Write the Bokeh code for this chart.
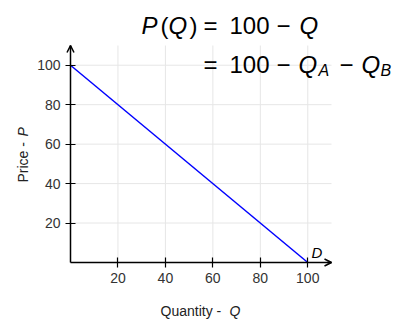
import math
from bokeh.plotting import figure
from bokeh.models import Label, Arrow, OpenHead, FixedTicker, Range1d
from bokeh.embed import file_html
from bokeh.resources import INLINE

# ---- data ----
quantity = [0, 100]
price = [100, 0]
x_ticks = [20, 40, 60, 80, 100]
y_ticks = [20, 40, 60, 80, 100]
x_max = 110
y_max = 110
curve_label = "D"
x_label = ["Quantity - ", "Q"]
y_label = ["Price - ", "P"]

# ---- layout (pixels) ----
W, H = 393, 321
PX0, PX1 = 70, 331   # where x = 0 and x = x_max fall
PY0, PY1 = 262, 45   # where y = 0 and y = y_max fall
FONT = "Liberation Sans"
BASE_SHIFT = 0.3     # empirical baseline correction (fraction of font size)

sx = (PX1 - PX0) / x_max
sy = (PY0 - PY1) / y_max
x_range = Range1d(-PX0 / sx, (W - PX0) / sx)
y_range = Range1d(-(H - PY0) / sy, PY0 / sy)

p = figure(width=W, height=H, x_range=x_range, y_range=y_range,
           output_backend="svg", toolbar_location=None, min_border=0)
p.outline_line_color = None
p.xgrid.visible = False
p.ygrid.visible = False

# grid lines, limited to the data area
grid_col = "#e6e6e6"
p.segment(x0=x_ticks, y0=[0] * len(x_ticks), x1=x_ticks, y1=[y_max] * len(x_ticks),
          line_color=grid_col, line_width=1)
p.segment(x0=[0] * len(y_ticks), y0=y_ticks, x1=[x_max] * len(y_ticks), y1=y_ticks,
          line_color=grid_col, line_width=1)

for ax, t, b in ((p.xaxis, x_ticks, (0, x_max)), (p.yaxis, y_ticks, (0, y_max))):
    ax.fixed_location = 0
    ax.bounds = b
    ax.ticker = FixedTicker(ticks=t)
    ax.axis_line_color = "black"
    ax.axis_line_width = 1.5
    ax.major_tick_line_color = "black"
    ax.major_tick_line_width = 1.2
    ax.major_tick_in = 5
    ax.major_tick_out = 5
    ax.minor_tick_line_color = None
    ax.major_label_text_font = FONT
    ax.major_label_text_font_size = "14px"
    ax.major_label_text_color = "#333333"
    ax.major_label_standoff = 5

# axis arrows
p.add_layout(Arrow(end=OpenHead(size=7, line_width=1.5, line_color="black"),
                   x_start=0, y_start=y_max - 2, x_end=0, y_end=y_max,
                   line_width=1.5, line_color="black"))
p.add_layout(Arrow(end=OpenHead(size=7, line_width=1.5, line_color="black"),
                   x_start=x_max - 2, y_start=0, x_end=x_max, y_end=0,
                   line_width=1.5, line_color="black"))

# demand curve
p.line(quantity, price, line_color="#0000ff", line_width=1.5)


def add_text(txt, px, py, size, italic=False, angle=0.0, color="black"):
    # px, py: baseline start in the picture (canvas units, from the top-left corner)
    d = BASE_SHIFT * size
    px -= d * math.sin(angle)
    py -= d * math.cos(angle)
    p.add_layout(Label(x=px, y=py, x_units="canvas", y_units="canvas",
                       text=txt, text_font=FONT, text_font_size=f"{size}px",
                       text_font_style="italic" if italic else "normal",
                       text_color=color, text_align="left", text_baseline="alphabetic",
                       angle=angle))


# title equation, line 1
l1 = 32
add_text("P", 141, l1, 24, True)
add_text("(", 160, l1, 24)
add_text("Q", 168, l1, 24, True)
add_text(")", 189, l1, 24)
add_text("=", 203, l1, 24)
add_text("100", 229, l1, 24)
add_text("\u2212", 276, l1, 24)
add_text("Q", 299, l1, 24, True)
# line 2
l2 = 71
add_text("=", 203, l2, 24)
add_text("100", 229, l2, 24)
add_text("\u2212", 276, l2, 24)
add_text("Q", 298, l2, 24, True)
add_text("A", 318, l2 + 4, 16, True)
add_text("\u2212", 339, l2, 24)
add_text("Q", 361, l2, 24, True)
add_text("B", 380, l2 + 4, 16, True)

# curve label
add_text(curve_label, 311, 256, 15, True)

# axis labels
add_text(x_label[0], 160, 315, 14, color="#222222")
add_text(x_label[1], 229, 315, 14, True, color="#222222")
add_text(y_label[0], 27, 182, 14, angle=math.pi / 2, color="#222222")
add_text(y_label[1], 27, 136, 14, True, angle=math.pi / 2, color="#222222")

open("out.html", "w").write(file_html(p, INLINE))
